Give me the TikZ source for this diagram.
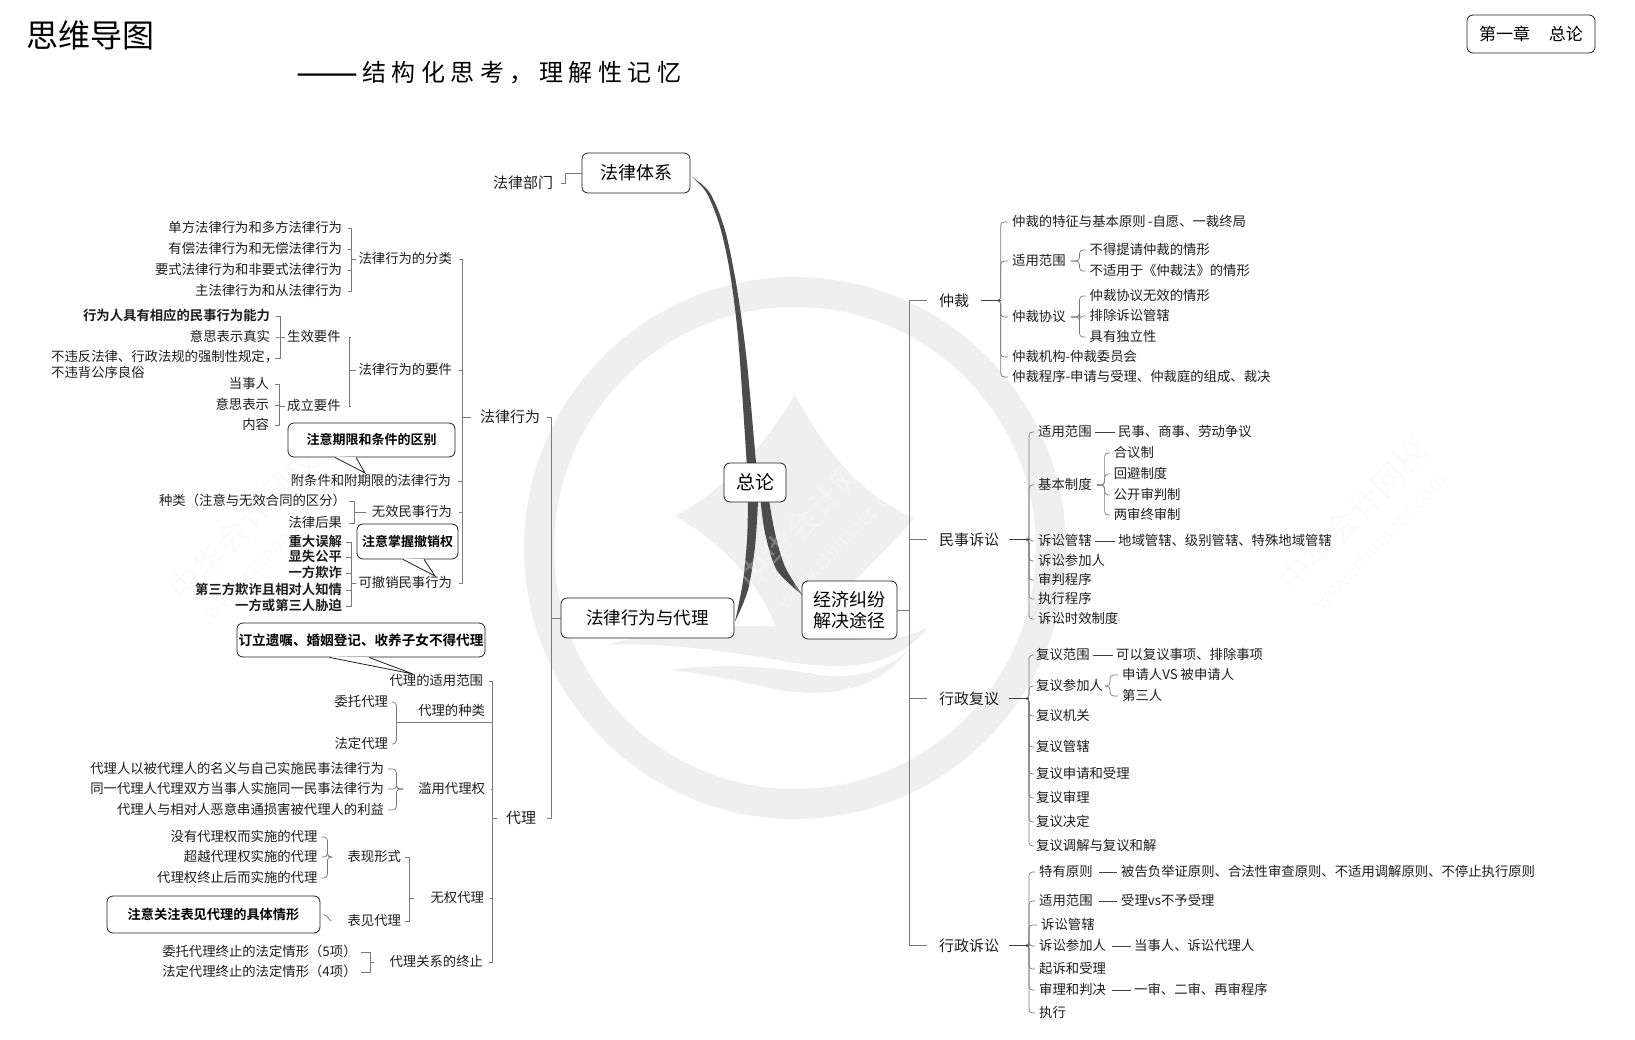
\documentclass[tikz,border=0pt]{standalone}
\usepackage{fontspec}
\setmainfont{Noto Sans CJK SC}[BoldFont=Noto Sans CJK SC Bold]
\usetikzlibrary{calc}
\definecolor{ink}{HTML}{1E1E1E}
\definecolor{wire}{HTML}{7A7A7A}
\definecolor{wmk}{HTML}{EFEFEF}
\definecolor{wmt}{HTML}{FAFAFA}
\definecolor{limb}{HTML}{4C4C4C}
\tikzset{
  txt/.style={inner sep=0pt,text=ink},
  lv2/.style={txt,text height=13.2pt,text depth=1.8pt,font=\fontsize{15}{17}\selectfont},
  lv3/.style={txt,text height=10.2pt,text depth=1.6pt,font=\fontsize{13.35}{16}\selectfont},
  lvb/.style={txt,text height=10.2pt,text depth=1.6pt,font=\fontsize{13.35}{16}\selectfont\bfseries},
  conn/.style={draw=wire,line width=.7pt},
  connr/.style={draw=wire,line width=.7pt,rounded corners=3.5pt},
  stubd/.style={draw=ink!85,line width=1pt},
  boxn/.style={draw=ink,line width=.8pt,fill=white,rounded corners=6pt,inner sep=0pt,text=black,align=center},
  pointer/.style={draw=ink,line width=.8pt},
  wmzh/.style={rotate=46,font=\fontsize{33}{33}\selectfont},
  wmen/.style={rotate=46,font=\fontsize{20}{20}\selectfont},
}
\newcommand\tL[5][lv3]{\node[#1,anchor=west] (#2) at (#3,#4) {#5};}
\newcommand\tR[5][lv3]{\node[#1,anchor=east,xshift=1.2pt] (#2) at (#3,#4) {#5};}
% children to the left of the spine, parent to the right
\newcommand\linkL[6][conn]{\foreach \kid in {#6}{\draw[#1] ([xshift=-#3pt]#2.west) -- (#4,0 |- #2.west) -- (#4,0 |- \kid.east) -- ([xshift=#5pt]\kid.east);}}
% children to the right of the spine, parent to the left
\newcommand\linkR[6][connr]{\foreach \kid in {#6}{\draw[#1] ([xshift=#3pt]#2.east) -- (#4,0 |- #2.east) -- (#4,0 |- \kid.west) -- ([xshift=-#5pt]\kid.west);}}
\newcommand\dashlink[2]{\draw[stubd,line width=.8pt] ([xshift=3pt]#1.east) -- ([xshift=-3pt]#2.west);}
\newcommand\callout[4]{%
  \fill[white] (#2,0 |- #1.south) ++(0,-1.2) -- (#4) -- (#3,0 |- #1.south) ++(0,-1.2) -- cycle;
  \draw[white,line width=1.6pt] (#2,0 |- #1.south) -- (#3,0 |- #1.south);
  \draw[pointer] (#2,0 |- #1.south) -- (#4) -- (#3,0 |- #1.south);}
\begin{document}
\begin{tikzpicture}[x=1pt,y=-1pt]
\useasboundingbox (0,0) rectangle (1635,1040);
\fill[white] (0,0) rectangle (1635,1040);
% ---------- watermark
\fill[wmk,even odd rule] (795,548) circle[radius=271pt] (795,548) circle[radius=241pt];
\fill[wmk] (795,395) .. controls (825,450) and (860,495) .. (914,518)
  .. controls (880,560) and (830,600) .. (795,640) .. controls (780,640) and (780,630) .. (775,625)
  .. controls (760,585) and (725,545) .. (675,516) .. controls (725,490) and (765,445) .. (795,395) -- cycle;
\fill[wmk] (606,645) .. controls (680,625) and (760,622) .. (800,630) .. controls (850,642) and (895,645) .. (928,627)
  .. controls (900,665) and (850,672) .. (790,662) .. controls (720,650) and (660,642) .. (606,645) -- cycle;
\fill[wmk] (668,670) .. controls (730,662) and (780,668) .. (820,675) .. controls (860,680) and (890,668) .. (910,648)
  .. controls (880,690) and (830,698) .. (780,690) .. controls (740,682) and (700,672) .. (668,670) -- cycle;
\node[wmzh,text=wmt] (wc) at (1353,515) {中华会计网校};
\node[wmen,text=wmt] (wd) at (1380,541) {www.chinaacc.com};
\node[wmzh,text=wmt] (we) at (243,525) {中华会计网校};
\node[wmen,text=wmt] (wf) at (270,551) {www.chinaacc.com};
% ---------- header
\node[txt,anchor=west,text=black,text height=28.2pt,text depth=3.8pt,font=\fontsize{32}{34}\selectfont] (title) at (26,35) {思维导图};
\node[txt,anchor=west,text=black,text height=21pt,text depth=3pt,font=\fontsize{24}{26}\selectfont] (subtitle) at (296,73) {\raisebox{-4pt}{\fontsize{37}{37}\selectfont ——}\hspace{4pt}{\addfontfeature{LetterSpace=23}结构化思考，理解性记忆}};
\node[boxn,minimum width=128pt,minimum height=38pt,font=\fontsize{17}{18}\selectfont] (chapter) at (1531,34) {第一章\hspace{1.1em}总论};
% ---------- limbs
\fill[limb] plot[smooth] coordinates {(691.7,176.7)(706.7,193)(720,226.7)(730,273)(738.3,340)(746.7,463)}
  -- plot[smooth] coordinates {(756,463)(746.7,360)(736.7,286.7)(725,230)(710,193)(691.7,176.7)} -- cycle;
\fill[limb] plot[smooth] coordinates {(748,502)(747,540)(742.7,583)(735,621.7)}
  -- plot[smooth] coordinates {(735,621.7)(748,590)(755,546.7)(758,502)} -- cycle;
\fill[limb] plot[smooth] coordinates {(760.7,502)(765,533)(776.7,570)(802.3,595)}
  -- plot[smooth] coordinates {(802.3,595)(785,566.7)(775,533)(769.3,502)} -- cycle;
\node[wmzh,text=white,opacity=.28] (wa) at (813,513) {中华会计网校};
\node[wmen,text=white,opacity=.28] (wb) at (843,540) {www.chinaacc.com};
\node[boxn,minimum width=62pt,minimum height=39pt,font=\fontsize{19}{21}\selectfont] (zonglun) at (755,482.5) {总论};
\node[boxn,minimum width=95pt,minimum height=58pt,font=\fontsize{18}{21.5}\selectfont] (jingji) at (849.5,610) {经济纠纷\\解决途径};
% ---------- left half
\node[boxn,minimum width=108pt,minimum height=40pt,font=\fontsize{18}{20}\selectfont] (tixi) at (636,173) {法律体系};
\tL[lv2]{bumen}{493}{183}{法律部门}
\linkL{tixi}{0}{565}{8}{bumen}
\node[boxn,minimum width=173pt,minimum height=40pt,font=\fontsize{17.5}{20}\selectfont] (xwdl) at (647.5,618) {法律行为与代理};
\tL[lv2]{xingwei}{480}{417}{法律行为}
\tL[lv2]{daili}{506}{818}{代理}
\linkL{xwdl}{0}{551}{7}{xingwei}
\linkL{xwdl}{0}{551}{11}{daili}
% --- falv xingwei
\tR{fenlei}{451}{259}{法律行为的分类}
\tR{yaojian}{451}{370}{法律行为的要件}
\tR{wuxiao}{451}{512}{无效民事行为}
\tR{chexiao}{451}{583}{可撤销民事行为}
\tR{fuqi}{450}{481}{附条件和附期限的法律行为}
\linkL{xingwei}{9}{462}{7}{fenlei,yaojian,fuqi,wuxiao,chexiao}
\tR{fa}{341}{228}{单方法律行为和多方法律行为}
\tR{fb}{341}{249}{有偿法律行为和无偿法律行为}
\tR{fc}{341}{270}{要式法律行为和非要式法律行为}
\tR{fd}{341}{291}{主法律行为和从法律行为}
\linkL{fenlei}{2}{351.5}{6}{fa,fb,fc,fd}
\tL{shengxiao}{287}{337}{生效要件}
\tL{chengli}{287}{406}{成立要件}
\linkL{yaojian}{2}{349.5}{9}{shengxiao,chengli}
\tR[lvb]{sa}{269}{316}{行为人具有相应的民事行为能力}
\tR{sb}{269}{337}{意思表示真实}
\node[txt,anchor=north west,align=left,font=\fontsize{13.35}{16}\selectfont] (sc) at (51,349.5) {不违反法律、行政法规的强制性规定，\\不违背公序良俗};
\coordinate (scend) at (269,358);
\linkL{shengxiao}{2}{280}{6}{sa,sb,scend}
\tR{ca}{268}{384}{当事人}
\tR{cb}{268}{405}{意思表示}
\tR{cc}{268}{425}{内容}
\linkL{chengli}{2}{279}{6}{ca,cb,cc}
\tR{wa1}{345}{501}{种类（注意与无效合同的区分）}
\tR{wa2}{341}{523}{法律后果}
\linkL{wuxiao}{6}{354.6}{3}{wa1}
\linkL{wuxiao}{6}{354.6}{7}{wa2}
\tR[lvb]{ka}{341}{542}{重大误解}
\tR[lvb]{kb}{341}{557}{显失公平}
\tR[lvb]{kc}{341}{573}{一方欺诈}
\tR[lvb]{kd}{341}{590}{第三方欺诈且相对人知情}
\tR[lvb]{ke}{341}{606}{一方或第三人胁迫}
\linkL{chexiao}{2}{351.5}{4}{ka,kb,kc,kd,ke}
% callouts
\node[boxn,minimum width=167pt,minimum height=34pt,font=\fontsize{13}{15}\selectfont\bfseries] (note1) at (371.5,440) {注意期限和条件的区别};
\coordinate (tip1) at (365,473);
\callout{note1}{335}{356}{tip1}
\node[boxn,minimum width=101pt,minimum height=35pt,font=\fontsize{13}{15}\selectfont\bfseries] (note2) at (407.5,541.5) {注意掌握撤销权};
\coordinate (tip2) at (435,576);
\callout{note2}{403}{424}{tip2}
\node[boxn,minimum width=248pt,minimum height=34pt,font=\fontsize{13.6}{16}\selectfont\bfseries] (note3) at (361,640) {订立遗嘱、婚姻登记、收养子女不得代理};
\coordinate (tip3) at (413,674);
\callout{note3}{329.5}{369}{tip3}
% --- daili
\tR{dshiyong}{482}{681}{代理的适用范围}
\tR{dzhong}{484}{711}{代理的种类}
\tR{dlanyong}{484}{789}{滥用代理权}
\tR{dwuquan}{483}{898}{无权代理}
\tR{dzhongzhi}{482}{962}{代理关系的终止}
\coordinate (zline) at (396.4,722);
\linkL{daili}{9}{492.7}{6}{dshiyong,dlanyong,dwuquan,dzhongzhi}
\linkL{daili}{9}{492.7}{0}{zline}
\tR{zwt}{387}{702}{委托代理}
\tR{zfd}{387}{744}{法定代理}
\foreach \kid in {zwt,zfd}{\draw[connr] (zline) -- (\kid.east -| zline) -- ([xshift=4pt]\kid.east);}
\tR{la}{383}{769}{代理人以被代理人的名义与自己实施民事法律行为}
\tR{lb}{383}{789}{同一代理人代理双方当事人实施同一民事法律行为}
\tR{lc}{383}{810}{代理人与相对人恶意串通损害被代理人的利益}
\linkL[connr]{dlanyong}{15}{396.4}{4}{la,lb,lc}
\tR{wbx}{400}{857}{表现形式}
\tR{wbj}{400}{921}{表见代理}
\linkL{dwuquan}{16}{409.5}{4}{wbx,wbj}
\tR{xa}{316.4}{837}{没有代理权而实施的代理}
\tR{xb}{316.4}{857}{超越代理权实施的代理}
\tR{xc}{316.4}{878}{代理权终止后而实施的代理}
\linkL[connr]{wbx}{17}{327.4}{4}{xa,xb,xc}
\node[boxn,minimum width=213pt,minimum height=37pt,font=\fontsize{13.2}{15}\selectfont\bfseries] (note4) at (213.5,914.5) {注意关注表见代理的具体情形};
\draw[conn] ([xshift=-16pt]wbj.west) .. controls +(-3,-1) and +(4,0) .. ([xshift=3pt]note4.east);
\tR{za}{355.6}{952}{委托代理终止的法定情形（5项）}
\tR{zb}{355.6}{972}{法定代理终止的法定情形（4项）}
\linkL{dzhongzhi}{15}{370}{4}{za,zb}
% ---------- right half
\tL[lv2]{zhongcai}{939}{300.5}{仲裁}
\tL[lv2]{minshi}{939}{539.5}{民事诉讼}
\tL[lv2]{fuyi}{939}{698.5}{行政复议}
\tL[lv2]{susong}{939}{945.5}{行政诉讼}
\linkR[conn]{jingji}{0}{909.3}{12}{zhongcai,minshi,fuyi,susong}
% arbitration
\tL{ta}{1012}{222}{仲裁的特征与基本原则\,-自愿、一裁终局}
\tL{tb}{1012}{261}{适用范围}
\tL{tc}{1012}{317}{仲裁协议}
\tL{td}{1012}{357}{仲裁机构-仲裁委员会}
\tL{te}{1012}{377}{仲裁程序-申请与受理、仲裁庭的组成、裁决}
\linkR{zhongcai}{12}{1000.7}{4}{ta,tb,tc,td,te}
\draw[stubd] ([xshift=12pt]zhongcai.east) -- (1000.7,0 |- zhongcai.east);
\tL{tb1}{1089.5}{250}{不得提请仲裁的情形}
\tL{tb2}{1089.5}{271}{不适用于《仲裁法》的情形}
\linkR{tb}{5}{1079.5}{4}{tb1,tb2}
\tL{tc1}{1089.5}{296}{仲裁协议无效的情形}
\tL{tc2}{1089.5}{316}{排除诉讼管辖}
\tL{tc3}{1089.5}{337}{具有独立性}
\linkR{tc}{5}{1079.5}{4}{tc1,tc2,tc3}
% civil
\tL{ma}{1038}{432}{适用范围}
\tL{ma1}{1118}{432}{民事、商事、劳动争议}
\dashlink{ma}{ma1}
\tL{mb}{1038}{485}{基本制度}
\tL{mc}{1038}{541}{诉讼管辖}
\tL{mc1}{1118}{541}{地域管辖、级别管辖、特殊地域管辖}
\dashlink{mc}{mc1}
\tL{md}{1038}{561}{诉讼参加人}
\tL{me}{1038}{580}{审判程序}
\tL{mf}{1038}{599}{执行程序}
\tL{mg}{1038}{619}{诉讼时效制度}
\linkR{minshi}{10}{1029}{4}{ma,mb,mc,md,me,mf,mg}
\draw[stubd] ([xshift=10pt]minshi.east) -- (1029,0 |- minshi.east);
\tL{mb1}{1113.6}{453}{合议制}
\tL{mb2}{1113.6}{474}{回避制度}
\tL{mb3}{1113.6}{495}{公开审判制}
\tL{mb4}{1113.6}{515}{两审终审制}
\linkR{mb}{5}{1104.6}{4}{mb1,mb2,mb3,mb4}
% admin review
\tL{fa1}{1036}{655}{复议范围}
\tL{fa2}{1116}{655}{可以复议事项、排除事项}
\dashlink{fa1}{fa2}
\tL{fb1}{1036}{686}{复议参加人}
\tL{fc1}{1036}{716}{复议机关}
\tL{fd1}{1036}{747}{复议管辖}
\tL{fe1}{1036}{774}{复议申请和受理}
\tL{ff1}{1036}{798}{复议审理}
\tL{fg1}{1036}{822}{复议决定}
\tL{fh1}{1036}{846}{复议调解与复议和解}
\linkR{fuyi}{10}{1029}{2}{fa1,fb1,fc1,fd1,fe1,ff1,fg1,fh1}
\draw[stubd] ([xshift=10pt]fuyi.east) -- (1029,0 |- fuyi.east);
\tL{fb2}{1122}{675}{申请人VS 被申请人}
\tL{fb3}{1122}{696}{第三人}
\linkR{fb1}{2}{1110}{4}{fb2,fb3}
% admin litigation
\tL{sa1}{1039}{872}{特有原则}
\tL{sa2}{1121}{872}{被告负举证原则、合法性审查原则、不适用调解原则、不停止执行原则}
\draw[stubd,line width=.8pt] ([xshift=6pt]sa1.east) -- ([xshift=-4pt]sa2.west);
\tL{sb1}{1039}{901}{适用范围}
\tL{sb2}{1121}{901}{受理vs不予受理}
\draw[stubd,line width=.8pt] ([xshift=6pt]sb1.east) -- ([xshift=-4pt]sb2.west);
\tL{sc1}{1041}{925}{诉讼管辖}
\tL{sd1}{1039}{946}{诉讼参加人}
\tL{sd2}{1134}{946}{当事人、诉讼代理人}
\draw[stubd,line width=.8pt] ([xshift=6pt]sd1.east) -- ([xshift=-3pt]sd2.west);
\tL{se1}{1039}{969}{起诉和受理}
\tL{sf1}{1039}{990}{审理和判决}
\tL{sf2}{1134}{990}{一审、二审、再审程序}
\draw[stubd,line width=.8pt] ([xshift=6pt]sf1.east) -- ([xshift=-3pt]sf2.west);
\tL{sg1}{1039}{1013}{执行}
\linkR{susong}{10}{1029}{4}{sa1,sb1,sc1,sd1,se1,sf1,sg1}
\draw[stubd] ([xshift=10pt]susong.east) -- (1029,0 |- susong.east);
\end{tikzpicture}
\end{document}
